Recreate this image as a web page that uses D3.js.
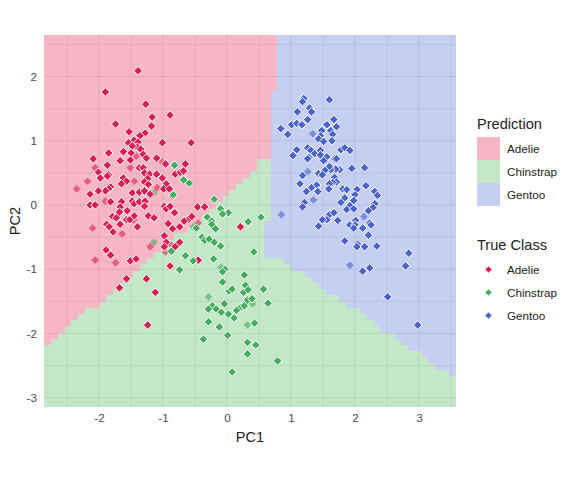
<!DOCTYPE html>
<html>
<head>
<meta charset="utf-8">
<script src="https://cdn.jsdelivr.net/npm/d3@7"></script>
<style>
body { margin: 0; background: #fff; }
text { font-family: "Liberation Sans", Arial, sans-serif; }
</style>
</head>
<body>
<div id="chart"></div>
<script>
const classes = ["Adelie", "Chinstrap", "Gentoo"];

// prediction raster, one entry per row from the top: how many of the 60 cells
// in the row are Adelie, then how many are Adelie + Chinstrap (the rest is Gentoo)
const adelieCells = [34,34,34,34,34,34,34,34,34,33,33,33,33,33,33,33,33,33,33,33,
    31,31,30,29,28,27,26,25,24,23,22,21,19,18,17,16,15,14,13,12,
    11,10,9,8,6,5,4,3,2,1,0,0,0,0,0,0,0,0,0,0];
const chinstrapEnd = [34,34,34,34,34,34,34,34,34,33,33,33,33,33,33,33,33,33,33,33,
    33,33,33,33,33,33,33,33,33,33,32,32,32,32,32,32,35,36,38,39,
    40,41,43,44,46,47,48,49,51,52,53,55,56,57,59,60,60,60,60,60];

const adelie = [[-1.39,2.09],[-1.90,1.76],[-1.27,1.57],[-1.17,1.37],[-0.89,1.40],[-1.74,1.26],[-1.53,1.14],
    [-1.18,1.23],[-1.28,1.12],[-1.36,1.08],[-1.45,1.01],[-1.54,0.97],[-1.39,0.98],[-1.01,0.97],[-0.56,0.97],
    [-1.40,0.90],[-1.48,0.92],[-1.35,0.87],[-1.62,0.83],[-1.85,0.81],[-1.31,0.79],[-1.50,0.81],[-1.26,0.73],
    [-1.10,0.73],[-2.09,0.72],[-1.67,0.69],[-1.51,0.70],[-0.96,0.64],[-1.87,0.62],[-1.37,0.58],[-1.31,0.58],
    [-0.65,0.64],[-2.01,0.51],[-1.29,0.50],[-1.21,0.48],[-1.10,0.48],[-0.81,0.48],[-0.73,0.51],[-0.68,0.53],
    [-1.85,0.47],[-1.87,0.45],[-1.01,0.42],[-1.62,0.42],[-1.98,0.42],[-1.57,0.37],[-1.24,0.41],[-1.65,0.33],
    [-1.29,0.36],[-1.23,0.32],[-0.95,0.33],[-1.82,0.28],[-1.85,0.25],[-1.90,0.22],[-2.01,0.22],[-2.14,0.17],
    [-0.99,0.25],[-0.90,0.25],[-1.48,0.19],[-1.37,0.20],[-1.29,0.22],[-1.20,0.17],[-0.85,0.14],[-1.82,0.05],
    [-1.65,0.05],[-2.14,0.00],[-2.06,0.00],[-1.48,0.06],[-1.45,0.02],[-1.37,0.05],[-1.28,0.06],[-1.29,-0.02],
    [-0.98,-0.02],[-0.95,-0.06],[-0.89,-0.02],[-0.46,-0.03],[-0.35,-0.03],[-1.67,-0.03],[-1.68,-0.11],[-1.56,-0.09],
    [-1.79,-0.18],[-1.73,-0.20],[-1.45,-0.17],[-1.23,-0.17],[-1.14,-0.20],[-0.82,-0.12],[-0.60,-0.22],[-0.67,-0.25],
    [-1.88,-0.30],[-1.84,-0.34],[-1.67,-0.30],[-1.78,-0.42],[-1.40,-0.34],[-1.57,-0.23],[-1.52,-0.23],[-0.92,-0.29],
    [-0.85,-0.37],[-0.74,-0.34],[-0.55,-0.18],[0.21,-0.34],[-0.98,-0.48],[-0.95,-0.58],[-0.74,-0.58],[-0.98,-0.65],
    [-0.81,-0.65],[-1.89,-0.70],[-1.82,-0.78],[-1.51,-0.87],[-1.42,-0.84],[-0.89,-0.95],[-0.45,-0.86],[-1.57,-1.15],
    [-1.26,-1.15],[-1.68,-1.29],[-1.12,-1.36],[-1.24,-1.87]];
const adelieFaint = [[-1.45,0.37],[-2.18,0.37],[-1.42,0.76],[-1.01,0.67],[-2.06,0.58],[-1.51,0.58],[-1.09,0.27],
    [-2.35,0.25],[-1.90,0.06],[-1.46,-0.23],[-2.10,-0.36],[-1.64,-0.45],[-0.45,-0.28],[-1.20,-0.65],[-0.87,-0.62],
    [-0.96,-0.73],[-2.06,-0.86],[-1.74,-0.90]];

const chinstrap = [[-0.82,0.62],[-0.68,0.39],[-0.59,0.34],[-0.84,0.16],[-0.20,0.09],[-0.10,-0.06],[0.02,-0.12],
    [-0.07,-0.14],[-0.31,-0.19],[-0.24,-0.25],[-0.24,-0.30],[-0.18,-0.37],[-0.48,-0.36],[-0.39,-0.50],[-0.35,-0.55],
    [-0.28,-0.53],[-0.20,-0.58],[-0.10,-0.64],[-0.87,-0.72],[-0.65,-0.79],[-0.53,-0.87],[-0.21,-0.84],[-0.74,-1.01],
    [-0.03,-1.00],[-0.07,-1.04],[-0.07,-1.20],[-0.04,-1.54],[-0.23,-1.57],[-0.29,-1.62],[-0.17,-1.62],[-0.09,-1.67],
    [0.02,-1.70],[0.11,-1.76],[-0.29,-1.82],[-0.12,-1.90],[-0.37,-2.09],[0.01,-2.03],[0.08,-2.60],[0.03,-1.34],
    [0.08,-1.31],[0.26,-1.36],[0.27,-1.09],[0.29,-1.25],[0.33,-1.32],[0.32,-1.48],[0.22,-1.59],[0.15,-1.64],
    [0.27,-1.57],[0.32,-2.14],[0.32,-2.32],[0.33,-0.26],[0.53,-0.19],[0.42,-0.73],[0.57,-1.31],[0.39,-1.46],
    [0.64,-1.53],[0.43,-1.84],[0.45,-2.18],[0.79,-2.43]];
const chinstrapFaint = [[-1.14,0.19],[-0.53,-0.34],[-0.09,-0.97],[-0.29,-1.43],[0.32,-1.87],[0.40,-1.54],[-1.14,-0.58]];

const gentoo = [[1.20,1.66],[1.18,1.61],[1.60,1.64],[1.29,1.51],[1.32,1.45],[1.10,1.45],[1.26,1.33],[1.67,1.33],
    [1.56,1.25],[1.71,1.22],[1.01,1.25],[1.09,1.27],[1.17,1.25],[0.84,1.19],[0.95,1.10],[1.48,1.16],[1.46,1.08],
    [1.43,1.03],[1.51,0.99],[1.62,1.16],[1.65,1.10],[1.64,1.00],[1.09,0.86],[1.03,0.77],[1.26,0.89],[1.31,0.85],
    [1.37,0.80],[1.46,0.85],[1.46,0.78],[1.56,0.75],[1.28,0.74],[1.26,0.72],[1.51,0.69],[1.68,0.72],[1.71,0.72],
    [1.78,0.86],[1.84,0.89],[1.92,0.85],[2.15,0.58],[1.95,0.57],[1.76,0.55],[1.70,0.56],[1.62,0.55],[1.60,0.60],
    [1.53,0.54],[1.43,0.49],[1.49,0.47],[1.18,0.46],[1.14,0.33],[1.68,0.43],[1.71,0.36],[1.65,0.35],[1.60,0.33],
    [1.59,0.25],[1.40,0.31],[1.32,0.27],[1.24,0.21],[1.42,0.21],[2.17,0.30],[1.81,0.25],[1.87,0.24],[2.03,0.24],
    [2.00,0.16],[2.31,0.21],[2.35,0.15],[1.84,0.11],[1.98,0.07],[1.78,0.04],[1.21,0.04],[1.18,-0.03],[2.31,0.02],
    [2.28,-0.04],[1.92,-0.01],[1.87,-0.07],[1.98,-0.06],[2.21,-0.09],[1.60,-0.15],[1.67,-0.12],[1.56,-0.23],
    [1.49,-0.23],[1.73,-0.24],[2.01,-0.24],[1.43,-0.33],[1.92,-0.31],[2.00,-0.31],[1.98,-0.36],[2.12,-0.36],
    [2.23,-0.28],[2.25,-0.31],[2.21,-0.47],[1.84,-0.56],[2.04,-0.61],[2.03,-0.65],[2.15,-0.65],[2.34,-0.64],
    [2.84,-0.75],[2.79,-0.95],[2.12,-1.03],[2.23,-0.98],[2.51,-1.43],[2.98,-1.87]];
const gentooFaint = [[1.34,1.11],[1.26,0.52],[1.35,0.08],[2.14,-0.18],[0.85,-0.15],[1.92,-0.94]];

const xTicks = [-2, -1, 0, 1, 2, 3],
      yTicks = [-3, -2, -1, 0, 1, 2],
      xMinor = [-2.5, -1.5, -0.5, 0.5, 1.5, 2.5, 3.5],
      yMinor = [-2.5, -1.5, -0.5, 0.5, 1.5, 2.5];

const width = 576, height = 480;
const panel = {left: 44, right: 456, top: 35, bottom: 407};

const regionColor = d3.scaleOrdinal().domain(classes).range(["#eb315c", "#59bd62", "#5f79da"]);
const pointColor = d3.scaleOrdinal().domain(classes).range(["#d81f52", "#44ad5e", "#4a64c9"]);

const x = d3.scaleLinear().domain([-2.86, 3.578]).range([panel.left, panel.right]);
const y = d3.scaleLinear().domain([-3.146, 2.648]).range([panel.bottom, panel.top]);
const col = d3.scaleBand().domain(d3.range(60)).range([panel.left, panel.right]);
const row = d3.scaleBand().domain(d3.range(adelieCells.length)).range([panel.top, panel.bottom]);

const svg = d3.select("#chart").append("svg")
    .attr("width", width)
    .attr("height", height)
    .style("display", "block");

// grid goes under the see-through raster
const grid = svg.append("g").attr("stroke", "#e4e4e4");
grid.selectAll("line.vmaj").data(xTicks.concat(xMinor)).enter().append("line")
    .attr("x1", d => x(d)).attr("x2", d => x(d))
    .attr("y1", panel.top).attr("y2", panel.bottom)
    .attr("stroke-width", d => Number.isInteger(d) ? 1 : 0.8);
grid.selectAll("line.hmaj").data(yTicks.concat(yMinor)).enter().append("line")
    .attr("y1", d => y(d)).attr("y2", d => y(d))
    .attr("x1", panel.left).attr("x2", panel.right)
    .attr("stroke-width", d => Number.isInteger(d) ? 1 : 0.8);

// one rect per run of equal cells, so no seams show between them
const runs = [];
adelieCells.forEach((a, r) => {
    const stops = [0, a, chinstrapEnd[r], 60];
    classes.forEach((c, i) => {
        if (stops[i + 1] > stops[i]) runs.push({r, c, from: stops[i], to: stops[i + 1]});
    });
});
svg.append("g").attr("shape-rendering", "crispEdges").attr("opacity", 0.35)
    .selectAll("rect").data(runs).enter().append("rect")
    .attr("x", d => col(d.from))
    .attr("y", d => row(d.r))
    .attr("width", d => (d.to < 60 ? col(d.to) : panel.right) - col(d.from))
    .attr("height", d => (d.r + 1 < 60 ? row(d.r + 1) : panel.bottom) - row(d.r))
    .attr("fill", d => regionColor(d.c));

const diamond = d3.symbol().type(d3.symbolDiamond2).size(48);
const faintDiamond = d3.symbol().type(d3.symbolDiamond2).size(38);

function drawPoints(data, cls, faint) {
    svg.append("g").selectAll("path").data(data).enter().append("path")
        .attr("d", faint ? faintDiamond : diamond)
        .attr("transform", d => `translate(${x(d[0])},${y(d[1])})`)
        .attr("fill", pointColor(cls))
        .attr("fill-opacity", faint ? 0.6 : 1)
        .attr("stroke", faint ? "none" : "#fff")
        .attr("stroke-width", 1)
        .attr("stroke-linejoin", "round");
}
drawPoints(adelieFaint, "Adelie", true);
drawPoints(chinstrapFaint, "Chinstrap", true);
drawPoints(gentooFaint, "Gentoo", true);
drawPoints(adelie, "Adelie", false);
drawPoints(chinstrap, "Chinstrap", false);
drawPoints(gentoo, "Gentoo", false);

const xAxis = svg.append("g")
    .attr("transform", `translate(0,${panel.bottom})`)
    .call(d3.axisBottom(x).tickValues(xTicks).tickSize(0).tickPadding(7).tickFormat(d => String(d)));
const yAxis = svg.append("g")
    .attr("transform", `translate(${panel.left},0)`)
    .call(d3.axisLeft(y).tickValues(yTicks).tickSize(0).tickPadding(7).tickFormat(d => String(d)));
[xAxis, yAxis].forEach(a => {
    a.select(".domain").remove();
    a.selectAll("text").attr("fill", "#4d4d4d").attr("font-size", 11.7)
        .style("font-family", '"Liberation Sans", Arial, sans-serif');
});

svg.append("text").attr("x", 250).attr("y", 442).attr("text-anchor", "middle")
    .attr("font-size", 14.6).attr("fill", "#222").text("PC1");
svg.append("text").attr("transform", "translate(20,221) rotate(-90)").attr("text-anchor", "middle")
    .attr("font-size", 14.6).attr("fill", "#222").text("PC2");

// legends
svg.append("text").attr("x", 477).attr("y", 129).attr("font-size", 14.6).attr("fill", "#222").text("Prediction");
const keyY = d3.scaleBand().domain(classes).range([137, 206]);
svg.append("g").attr("shape-rendering", "crispEdges").attr("opacity", 0.35)
    .selectAll("rect").data(classes).enter().append("rect")
    .attr("x", 477).attr("width", 23)
    .attr("y", d => keyY(d)).attr("height", keyY.bandwidth())
    .attr("fill", d => regionColor(d));
svg.append("g").selectAll("text").data(classes).enter().append("text")
    .attr("x", 507).attr("y", d => keyY(d) + keyY.bandwidth() / 2 + 4)
    .attr("font-size", 11.7).attr("fill", "#222").text(d => d);

svg.append("text").attr("x", 477).attr("y", 250).attr("font-size", 14.6).attr("fill", "#222").text("True Class");
const markY = d3.scaleBand().domain(classes).range([258, 327]);
svg.append("g").selectAll("path").data(classes).enter().append("path")
    .attr("d", d3.symbol().type(d3.symbolDiamond2).size(34))
    .attr("transform", d => `translate(488.5,${markY(d) + markY.bandwidth() / 2})`)
    .attr("fill", d => pointColor(d))
    .attr("stroke", "#fff").attr("stroke-width", 1);
svg.append("g").selectAll("text").data(classes).enter().append("text")
    .attr("x", 507).attr("y", d => markY(d) + markY.bandwidth() / 2 + 4)
    .attr("font-size", 11.7).attr("fill", "#222").text(d => d);
</script>
</body>
</html>
